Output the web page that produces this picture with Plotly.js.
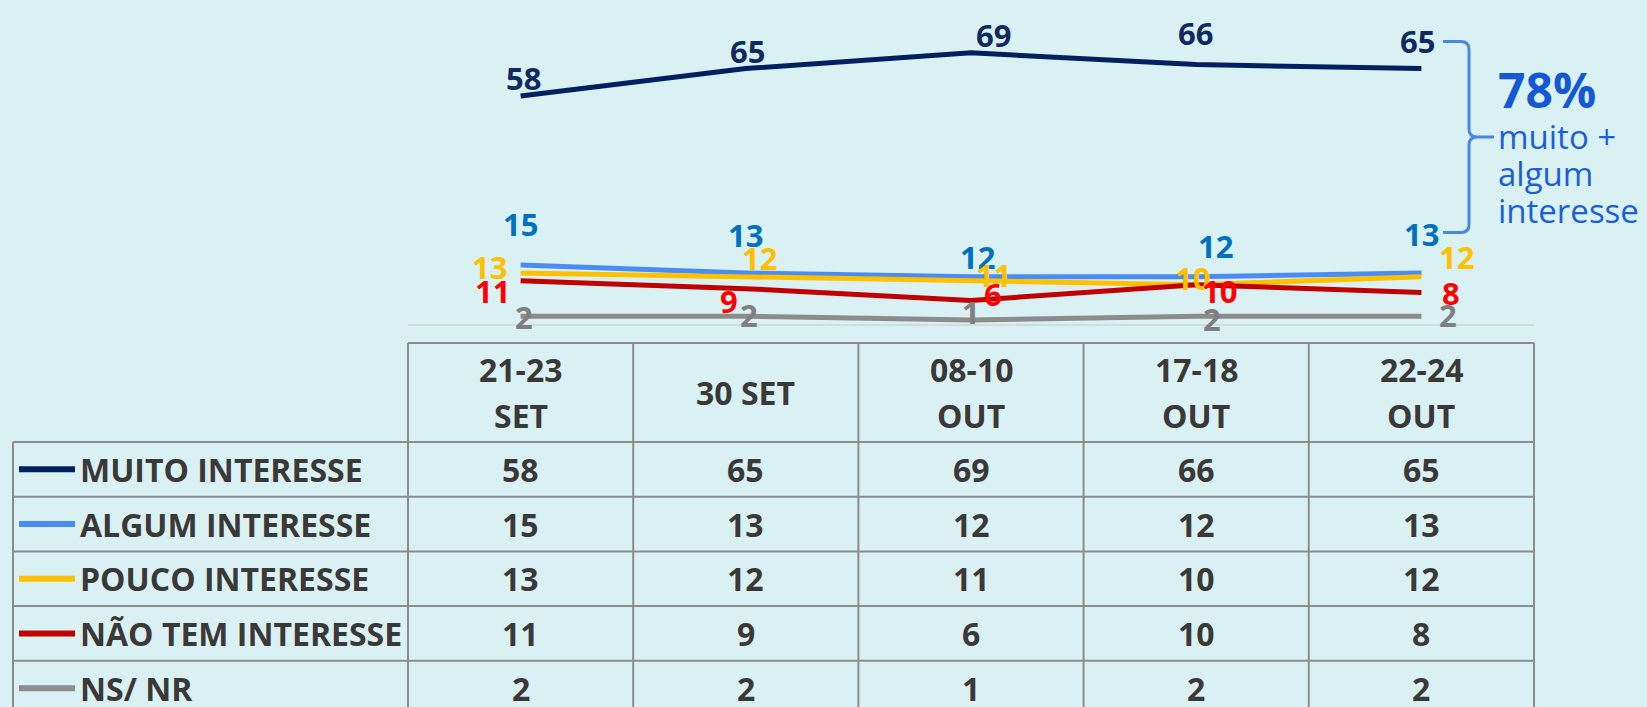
<!DOCTYPE html>
<html>
<head>
<meta charset="utf-8">
<script src="https://cdn.plot.ly/plotly-3.0.1.min.js"></script>
<style>
  html, body { margin: 0; padding: 0; background: #daf1f3; }
  #chart { width: 1647px; height: 707px; }
</style>
</head>
<body>
<div id="chart"></div>
<script>
// ---------- DATA ----------
const categories = ['21-23<br>SET', '30 SET', '08-10<br>OUT', '17-18<br>OUT', '22-24<br>OUT'];
const seriesNames = ['MUITO INTERESSE', 'ALGUM INTERESSE', 'POUCO INTERESSE', 'NÃO TEM INTERESSE', 'NS/ NR'];
const muitoInteresse = [58, 65, 69, 66, 65];
const algumInteresse = [15, 13, 12, 12, 13];
const poucoInteresse = [13, 12, 11, 10, 12];
const naoTemInteresse = [11, 9, 6, 10, 8];
const nsNr = [2, 2, 1, 2, 2];
const bracketValue = '78%';
const bracketText = ['muito +', 'algum', 'interesse'];

// ---------- STYLE ----------
const W = 1647, H = 707;
const BG = '#daf1f3';
const lineColors = ['#002060', '#4a8cf2', '#ffc000', '#c00000', '#8c8c8c'];
const labelColors = ['#0e2a5e', '#0070c0', '#ffc000', '#ff0000', '#7f7f7f'];
const FONT = 'Open Sans, sans-serif';
const TXT = '#3b3838';
const TABLE_FS = 32, LABEL_FS = 31;
// label offsets (px) relative to each point: [dx, dy] (dy positive = down)
const labelOffsets = [
  [[3, -18], [2, -18], [22, -18], [-1, -32], [-4, -28]],
  [[0, -41], [0, -38], [6, -20], [19, -31], [0, -39]],
  [[-31, -6], [14, -19], [22, -6], [-4, -7], [35, -20]],
  [[-28, 10], [-17, 12], [22, -6], [23, 6], [30, 0]],
  [[3, 1], [3, -1], [0, -8], [16, 3], [27, -1]]
];

// geometry (px)
const X0 = 408, X1 = 1534;
const Y_ZERO = 324, PX_PER_UNIT = 3.93, Y_MAX = 75;
const Y_TOP = Y_ZERO - Y_MAX * PX_PER_UNIT;
const TABLE_LEFT = 13, HEAD_TOP = 343, HEAD_BOT = 442, ROW_H = 54.7;

const px = x => x / W;
const py = y => 1 - y / H;

const allSeries = [muitoInteresse, algumInteresse, poucoInteresse, naoTemInteresse, nsNr];

const traces = allSeries.map((vals, s) => ({
  type: 'scatter', mode: 'lines',
  x: categories, y: vals,
  line: { color: lineColors[s], width: 5 },
  hoverinfo: 'skip', showlegend: false,
  cliponaxis: false
}));

const annotations = [];
const shapes = [];

// point labels
allSeries.forEach((vals, s) => {
  vals.forEach((v, i) => {
    annotations.push({
      x: categories[i], y: v, xref: 'x', yref: 'y',
      text: String(v), showarrow: false,
      xshift: labelOffsets[s][i][0], yshift: -labelOffsets[s][i][1],
      xanchor: 'center', yanchor: 'middle',
      font: { family: FONT, size: LABEL_FS, color: labelColors[s], weight: 700 }
    });
  });
});

// table grid
const colW = (X1 - X0) / categories.length;
const gridStyle = { color: '#8c8c8c', width: 2 };
const nRows = seriesNames.length;
const tableBottom = HEAD_BOT + nRows * ROW_H;
function hline(x0, x1, y) {
  shapes.push({ type: 'line', xref: 'paper', yref: 'paper', x0: px(x0), x1: px(x1), y0: py(y), y1: py(y), line: gridStyle, layer: 'above' });
}
function vline(x, y0, y1) {
  shapes.push({ type: 'line', xref: 'paper', yref: 'paper', x0: px(x), x1: px(x), y0: py(y0), y1: py(y1), line: gridStyle, layer: 'above' });
}
hline(X0, X1, HEAD_TOP);
for (let r = 0; r <= nRows; r++) hline(TABLE_LEFT, X1, HEAD_BOT + r * ROW_H);
vline(TABLE_LEFT, HEAD_BOT, tableBottom);
for (let c = 0; c <= categories.length; c++) vline(X0 + c * colW, HEAD_TOP, tableBottom);

// header text
categories.forEach((cat, i) => {
  const lines = cat.split('<br>');
  const cy = (HEAD_TOP + HEAD_BOT) / 2;
  const gap = 46;
  lines.forEach((ln, k) => {
    const y = cy + (k - (lines.length - 1) / 2) * gap;
    annotations.push({
      x: cat, xref: 'x', y: py(y), yref: 'paper', text: ln, showarrow: false,
      xanchor: 'center', yanchor: 'middle',
      font: { family: FONT, size: TABLE_FS, color: TXT, weight: 700 }
    });
  });
});

// rows
seriesNames.forEach((name, r) => {
  const cy = HEAD_BOT + (r + 0.5) * ROW_H;
  shapes.push({ type: 'line', xref: 'paper', yref: 'paper', x0: px(19), x1: px(75), y0: py(cy), y1: py(cy),
    line: { color: lineColors[r], width: 6 }, layer: 'above' });
  annotations.push({
    x: px(78), xref: 'paper', y: py(cy), yref: 'paper', text: name, showarrow: false,
    xanchor: 'left', yanchor: 'middle',
    font: { family: FONT, size: TABLE_FS, color: TXT, weight: 700 }
  });
  allSeries[r].forEach((v, i) => {
    annotations.push({
      x: categories[i], xref: 'x', y: py(cy), yref: 'paper', text: String(v), showarrow: false,
      xanchor: 'center', yanchor: 'middle',
      font: { family: FONT, size: TABLE_FS, color: TXT, weight: 700 }
    });
  });
});

// bracket
const P = (x, y) => `${px(x)},${py(y)}`;
const bracketPath =
  `M ${P(1443, 41.5)} L ${P(1461, 41.5)} Q ${P(1469, 41.5)} ${P(1469, 49.5)} L ${P(1469, 129)} ` +
  `Q ${P(1469, 137)} ${P(1477, 137)} L ${P(1494, 137)} M ${P(1477, 137)} Q ${P(1469, 137)} ${P(1469, 145)} ` +
  `L ${P(1469, 224.5)} Q ${P(1469, 232.5)} ${P(1461, 232.5)} L ${P(1443, 232.5)}`;
shapes.push({ type: 'path', xref: 'paper', yref: 'paper', path: bracketPath,
  line: { color: '#4a86e8', width: 3 }, layer: 'above' });

annotations.push({
  x: px(1496), xref: 'paper', y: py(89), yref: 'paper', text: '<b>' + bracketValue + '</b>',
  showarrow: false, xanchor: 'left', yanchor: 'middle',
  font: { family: FONT, size: 48, color: '#1558d6' }
});
bracketText.forEach((t, k) => {
  annotations.push({
    x: px(1496), xref: 'paper', y: py(136 + k * 37), yref: 'paper', text: t,
    showarrow: false, xanchor: 'left', yanchor: 'middle',
    font: { family: FONT, size: 33, color: '#1a5fd8' }
  });
});

const layout = {
  width: W, height: H,
  margin: { l: 0, r: 0, t: 0, b: 0, pad: 0 },
  paper_bgcolor: BG, plot_bgcolor: BG,
  showlegend: false,
  xaxis: {
    domain: [px(X0), px(X1)], type: 'category', range: [-0.5, categories.length - 0.5],
    showticklabels: false, showgrid: false, zeroline: false, ticks: '',
    showline: true, linecolor: '#d3dcdd', linewidth: 2, fixedrange: true
  },
  yaxis: {
    domain: [py(Y_ZERO), py(Y_TOP)], range: [0, Y_MAX],
    showticklabels: false, showgrid: false, zeroline: false, showline: false, ticks: '', fixedrange: true
  },
  annotations: annotations,
  shapes: shapes
};

Plotly.newPlot('chart', traces, layout, { displayModeBar: false, staticPlot: true });
</script>
</body>
</html>
